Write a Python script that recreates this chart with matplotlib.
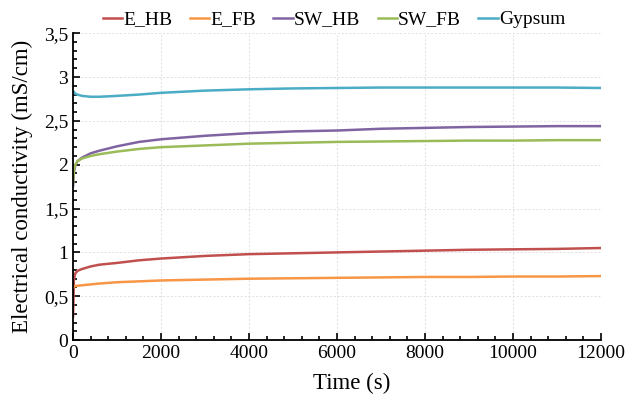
import matplotlib
matplotlib.use('Agg')
import matplotlib.pyplot as plt
from matplotlib.ticker import MultipleLocator, FuncFormatter

# time samples (s)
t = [0, 20, 50, 100, 200, 400, 600, 1000, 1500, 2000, 3000, 4000, 5000,
     6000, 7000, 8000, 9000, 10000, 11000, 12000]

e_hb = [0.27, 0.70, 0.76, 0.79, 0.81, 0.84, 0.86, 0.88, 0.91, 0.93, 0.96, 0.98, 0.99,
        1.00, 1.01, 1.02, 1.03, 1.035, 1.04, 1.05]
e_fb = [0.60, 0.61, 0.615, 0.62, 0.625, 0.635, 0.645, 0.66, 0.67, 0.68, 0.69, 0.70, 0.705,
        0.71, 0.715, 0.72, 0.72, 0.725, 0.725, 0.73]
sw_hb = [1.76, 1.92, 1.99, 2.04, 2.08, 2.13, 2.16, 2.21, 2.26, 2.29, 2.33, 2.36, 2.38,
         2.39, 2.41, 2.42, 2.43, 2.435, 2.44, 2.44]
sw_fb = [1.80, 1.94, 2.00, 2.04, 2.07, 2.10, 2.12, 2.15, 2.18, 2.20, 2.22, 2.24, 2.25,
         2.26, 2.265, 2.27, 2.275, 2.275, 2.28, 2.28]
gypsum = [2.84, 2.83, 2.81, 2.80, 2.785, 2.775, 2.775, 2.785, 2.80, 2.82, 2.845, 2.86, 2.87,
          2.875, 2.88, 2.88, 2.88, 2.88, 2.88, 2.875]

series = [
    ('E_HB', e_hb, '#c0504d'),
    ('E_FB', e_fb, '#f79646'),
    ('SW_HB', sw_hb, '#8064a2'),
    ('SW_FB', sw_fb, '#9bbb59'),
    ('Gypsum', gypsum, '#4bacc6'),
]

plt.rcParams['font.family'] = ['Liberation Serif', 'DejaVu Serif']

fig = plt.figure(figsize=(6.3, 3.95), dpi=100)
ax = fig.add_axes([0.116, 0.139, 0.838, 0.777])

for name, vals, col in series:
    ax.plot(t, vals, color=col, lw=1.8, label=name)

ax.set_xlim(0, 12000)
ax.set_ylim(0, 3.5)
ax.xaxis.set_major_locator(MultipleLocator(2000))
ax.xaxis.set_minor_locator(MultipleLocator(400))
ax.yaxis.set_major_locator(MultipleLocator(0.5))
ax.yaxis.set_minor_locator(MultipleLocator(0.1))
ax.yaxis.set_major_formatter(FuncFormatter(lambda v, p: ('%g' % v).replace('.', ',')))

ax.grid(True, which='major', color='#dedede', ls=(0, (2, 2)), lw=0.7)
ax.tick_params(which='both', direction='in', labelsize=14, width=1.2)
ax.tick_params(which='major', length=5)
ax.tick_params(which='minor', length=3)
for s in ['top', 'right']:
    ax.spines[s].set_visible(False)
for s in ['left', 'bottom']:
    ax.spines[s].set_linewidth(1.3)

ax.set_xlabel('Time (s)', fontsize=16.5, va='center')
ax.xaxis.set_label_coords(0.527, -0.14)
ax.set_ylabel('Electrical conductivity (mS/cm)', fontsize=16.5, labelpad=8)

ax.legend(loc='lower center', bbox_to_anchor=(0.494, 0.99), ncol=5, frameon=False,
          fontsize=14, handlelength=1.0, handletextpad=0.05, columnspacing=0.9,
          borderaxespad=0)

fig.savefig('out.png', dpi=100)
